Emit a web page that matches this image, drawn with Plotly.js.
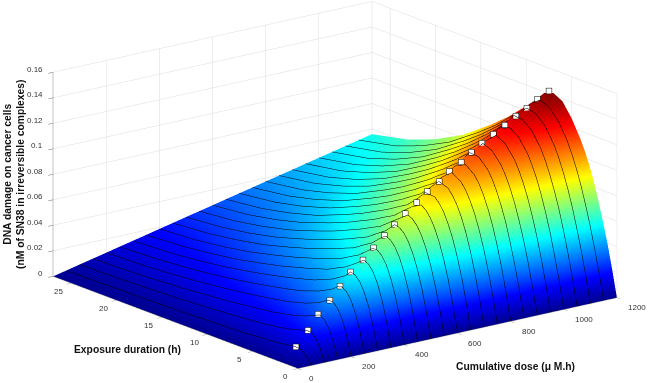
<!DOCTYPE html>
<html><head><meta charset="utf-8">
<script src="https://cdn.plot.ly/plotly-3.0.1.min.js"></script>
<style>html,body{margin:0;padding:0;background:#fff}#c{width:648px;height:383px}</style>
</head><body><div id="c"></div>
<script>
var doses=[0,50,100,150,200,250,300,350,400,450,500,550,600,650,700,750,800,850,900,950,1000,1050,1100,1150,1200];
var durations=[0,0.5,1,1.5,2,2.5,3,3.5,4,5,6,7,8,9,10,12,14,17,20,23,27];
var damage=[
[0,0,0,0,0,0,0,0,0,0,0,0,0,0,0,0,0,0,0,0,0],
[0,.0055,.0088,.0101,.0100,.0094,.0089,.0083,.0079,.0072,.0067,.0061,.0058,.0055,.0052,.0046,.0041,.0034,.0030,.0026,.0023],
[0,.0102,.0167,.0199,.0200,.0188,.0178,.0166,.0158,.0143,.0133,.0123,.0116,.0109,.0103,.0092,.0082,.0069,.0059,.0052,.0047],
[0,.0129,.0220,.0274,.0297,.0282,.0267,.0249,.0237,.0215,.0200,.0184,.0174,.0164,.0155,.0137,.0123,.0103,.0089,.0078,.0070],
[0,.0155,.0268,.0339,.0375,.0376,.0356,.0332,.0316,.0286,.0266,.0245,.0232,.0218,.0206,.0183,.0163,.0137,.0118,.0104,.0093],
[0,.0165,.0292,.0382,.0435,.0458,.0445,.0415,.0395,.0358,.0333,.0306,.0290,.0273,.0258,.0229,.0204,.0171,.0148,.0130,.0117],
[0,.0178,.0318,.0421,.0491,.0528,.0539,.0498,.0474,.0429,.0399,.0368,.0348,.0327,.0309,.0275,.0245,.0206,.0177,.0156,.0140],
[0,.0194,.0350,.0465,.0545,.0591,.0607,.0581,.0553,.0501,.0466,.0429,.0406,.0382,.0361,.0320,.0286,.0240,.0207,.0182,.0163],
[0,.0198,.0360,.0483,.0576,.0635,.0665,.0664,.0632,.0572,.0532,.0490,.0464,.0436,.0412,.0366,.0327,.0274,.0236,.0208,.0187],
[0,.0204,.0372,.0507,.0608,.0678,.0720,.0737,.0711,.0644,.0599,.0551,.0522,.0491,.0464,.0412,.0368,.0308,.0266,.0234,.0210],
[0,.0201,.0371,.0510,.0618,.0699,.0753,.0782,.0790,.0715,.0665,.0613,.0580,.0545,.0515,.0458,.0409,.0343,.0295,.0260,.0234],
[0,.0201,.0372,.0516,.0633,.0722,.0785,.0825,.0843,.0787,.0732,.0674,.0638,.0600,.0567,.0503,.0449,.0377,.0325,.0286,.0257],
[0,.0206,.0385,.0534,.0656,.0753,.0824,.0872,.0898,.0858,.0798,.0735,.0696,.0654,.0618,.0549,.0490,.0411,.0354,.0312,.0280],
[0,.0206,.0386,.0537,.0667,.0767,.0849,.0904,.0940,.0945,.0865,.0796,.0754,.0709,.0670,.0595,.0531,.0445,.0384,.0338,.0304],
[0,.0211,.0395,.0554,.0687,.0796,.0880,.0943,.0985,.1011,.0931,.0858,.0812,.0763,.0721,.0641,.0572,.0480,.0413,.0364,.0327],
[0,.0209,.0389,.0550,.0685,.0798,.0888,.0959,.1009,.1056,.0998,.0919,.0870,.0818,.0773,.0686,.0613,.0514,.0443,.0390,.0350],
[0,.0209,.0397,.0559,.0700,.0815,.0911,.0988,.1042,.1098,.1064,.0980,.0928,.0872,.0824,.0732,.0654,.0548,.0472,.0416,.0374],
[0,.0207,.0390,.0551,.0697,.0815,.0916,.0999,.1061,.1133,.1140,.1041,.0986,.0927,.0876,.0778,.0694,.0582,.0502,.0442,.0397],
[0,.0204,.0386,.0550,.0691,.0816,.0921,.1006,.1075,.1161,.1188,.1103,.1044,.0981,.0927,.0824,.0735,.0617,.0531,.0468,.0420],
[0,.0204,.0389,.0554,.0699,.0827,.0935,.1023,.1096,.1191,.1229,.1164,.1102,.1036,.0979,.0869,.0776,.0651,.0561,.0494,.0444],
[0,.0206,.0391,.0560,.0706,.0836,.0948,.1039,.1116,.1221,.1268,.1240,.1160,.1090,.1030,.0915,.0817,.0685,.0590,.0520,.0467],
[0,.0205,.0390,.0558,.0710,.0841,.0953,.1051,.1133,.1247,.1303,.1312,.1218,.1145,.1082,.0961,.0858,.0719,.0620,.0546,.0490],
[0,.0202,.0388,.0552,.0704,.0837,.0953,.1053,.1137,.1260,.1327,.1346,.1276,.1199,.1133,.1007,.0899,.0754,.0649,.0572,.0514],
[0,.0201,.0384,.0550,.0700,.0836,.0954,.1056,.1143,.1275,.1354,.1386,.1334,.1254,.1185,.1052,.0940,.0788,.0679,.0598,.0537],
[0,.0200,.0385,.0545,.0695,.0830,.0950,.1050,.1135,.1275,.1380,.1418,.1392,.1308,.1236,.1098,.0980,.0822,.0708,.0624,.0560]
];
var optDose=[50,100,150,200,250,300,350,400,450,500,550,600,650,700,750,800,850,900,950,1000,1050,1100,1150,1200];
var optDuration=[1.7,1.85,2.2,2.36,2.7,3.0,3.1,3.4,3.65,4.0,4.3,4.5,4.8,4.95,5.3,5.45,5.8,6.1,6.3,6.5,6.75,7.0,7.3,7.5];
var optDamage=[.0102,.0204,.0298,.0381,.0459,.0539,.0607,.0671,.0737,.079,.0846,.0905,.0959,.1011,.1057,.1102,.1148,.1188,.123,.1272,.1314,.1346,.1386,.1421];
var doseTicks=[0,200,400,600,800,1000,1200];
var durationTicks=[0,5,10,15,20,25];
var damageTicks=[0,.02,.04,.06,.08,.1,.12,.14,.16];
var damageLabels=['0','0.02','0.04','0.06','0.08','0.1','0.12','0.14','0.16'];
var jet=[[0,'rgb(0,0,143)'],[.125,'rgb(0,0,255)'],[.375,'rgb(0,255,255)'],[.625,'rgb(255,255,0)'],[.875,'rgb(255,0,0)'],[1,'rgb(128,0,0)']];
var zRows=durations.map(function(_,j){return damage.map(function(r){return r[j];});});
var ax={showbackground:false,showgrid:true,gridcolor:'#dcdcdc',gridwidth:1,zeroline:false,showspikes:false,
  showline:true,linecolor:'#888',linewidth:1,ticks:'outside',ticklen:6,tickcolor:'#666',tickwidth:1,
  showticklabels:false,title:{text:''}};
function A(o){return Object.assign({},ax,o);}
var E=[-.583,-.759,.289],R=2,C=[-.0515,.0272,-.0325],S=2.1,SZ=1.113;
var nudge=.02; // keeps the markers just in front of the surface along the line of sight
var tickFont={family:'Liberation Sans, Arial, sans-serif',size:8,color:'#333'};
var titleFont={family:'Liberation Sans, Arial, sans-serif',size:10.3,color:'#111'};
function lbl(x,y,z,text,anchor,dx,dy){return {x:x,y:y,z:z,text:text,showarrow:false,xanchor:anchor,yanchor:'middle',xshift:dx,yshift:dy,font:tickFont};}
var sceneLabels=[]
 .concat(doseTicks.map(function(v){return lbl(v,0,0,String(v),'left',9,-10);}))
 .concat(durationTicks.map(function(v){return lbl(0,v,0,String(v),'center',-13,-8);}))
 .concat(damageTicks.map(function(v,i){return lbl(0,27,v,damageLabels[i],'right',-8,3);}));
Plotly.newPlot('c',[
 {type:'surface',x:doses,y:durations,z:zRows,colorscale:jet,cmin:0,cmax:.1421,showscale:false,
  lighting:{ambient:1,diffuse:0,specular:0,roughness:1,fresnel:0},hoverinfo:'skip',
  contours:{x:{show:true,start:50,end:1200,size:50,color:'#000',width:1,highlight:false},
            y:{highlight:false},z:{highlight:false}}},
 {type:'scatter3d',mode:'markers',
  x:optDose.map(function(v){return v+E[0]*nudge*1200/S;}),
  y:optDuration.map(function(v){return v+E[1]*nudge*27/S;}),
  z:optDamage.map(function(v){return v+E[2]*nudge*.16/SZ;}),
  marker:{symbol:'square',size:3,color:'#fff',line:{color:'#000',width:1}},hoverinfo:'skip'}
],{
 width:648,height:383,margin:{l:0,r:0,t:0,b:0},showlegend:false,paper_bgcolor:'#fff',
 scene:{domain:{x:[0,1],y:[0,1]},
  aspectmode:'manual',aspectratio:{x:S,y:S,z:SZ},
  camera:{projection:{type:'orthographic'},up:{x:0,y:0,z:1},center:{x:C[0],y:C[1],z:C[2]},
          eye:{x:E[0]*R+C[0],y:E[1]*R+C[1],z:E[2]*R+C[2]}},
  xaxis:A({range:[0,1200],tickvals:doseTicks}),
  yaxis:A({range:[0,27],tickvals:durationTicks}),
  zaxis:A({range:[0,.16],tickvals:damageTicks}),
  annotations:sceneLabels
 },
 annotations:[
  {xref:'paper',yref:'paper',x:14/648,y:1-175/383,text:'<b>DNA damage on cancer cells<br>(nM of SN38 in irreversible complexes)</b>',textangle:-90,showarrow:false,xanchor:'center',yanchor:'middle',font:titleFont},
  {xref:'paper',yref:'paper',x:127/648,y:1-349/383,text:'<b>Exposure duration (h)</b>',showarrow:false,xanchor:'center',yanchor:'middle',font:titleFont},
  {xref:'paper',yref:'paper',x:515/648,y:1-366/383,text:'<b>Cumulative dose (\u03bc M.h)</b>',showarrow:false,xanchor:'center',yanchor:'middle',font:titleFont}
 ]
},{displayModeBar:false});
</script></body></html>
